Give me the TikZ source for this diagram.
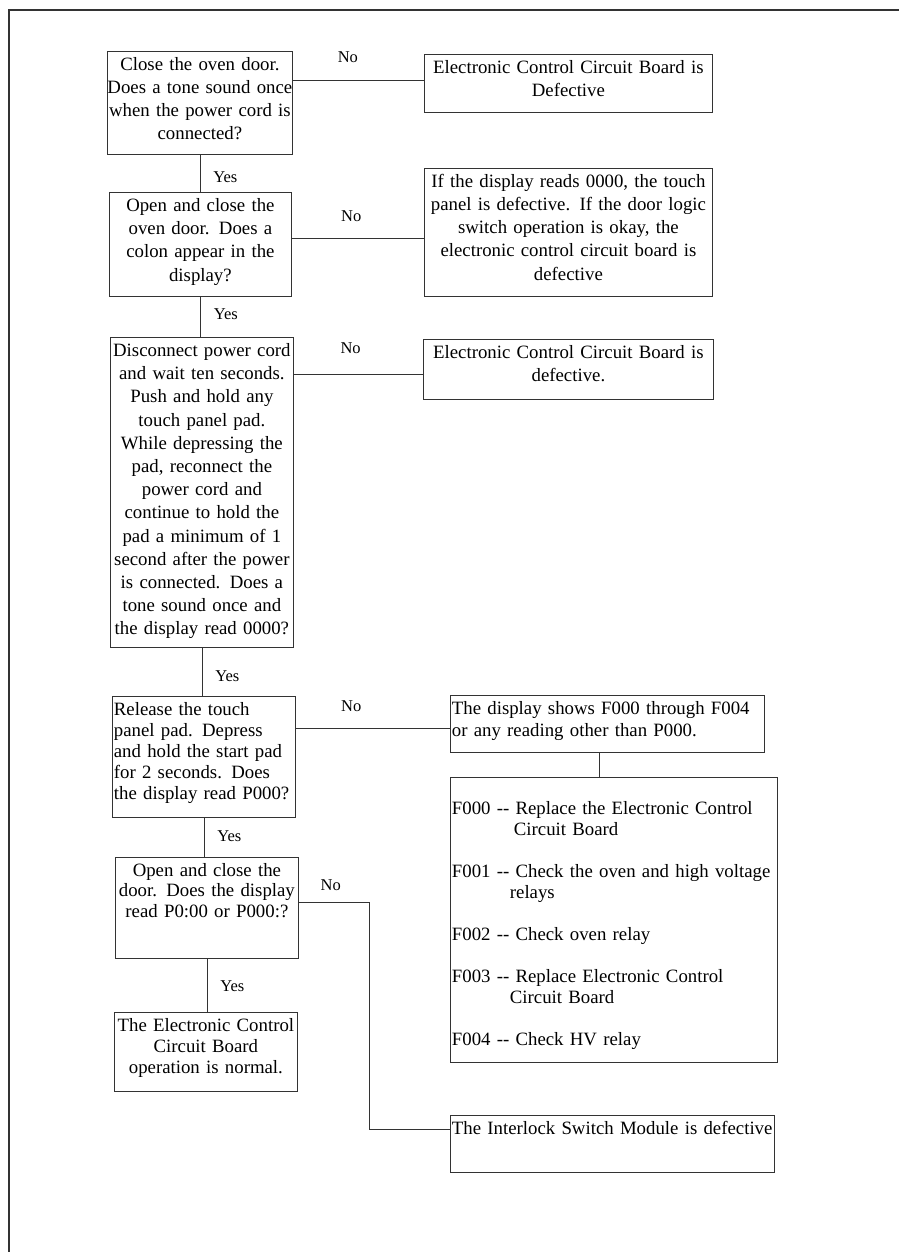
\documentclass[tikz,border=0pt]{standalone}
\usepackage{fontspec}
\setmainfont{Liberation Serif}

\begin{document}
\begin{tikzpicture}[x=1pt,y=-1pt,
        box/.style={draw=black!80, line width=.8pt, anchor=north west, inner xsep=1.5pt, inner ysep=3pt, text height=16pt, font=\fontsize{18.8}{23.2}\selectfont},
        cbox/.style={box, align=center, inner xsep=-6pt},
        lbox/.style={box, align=left},
        lbl/.style={inner sep=0pt, font=\fontsize{16.5}{18}\selectfont},
        link/.style={draw=black!80, line width=.8pt}]
    \useasboundingbox (0,0) rectangle (899,1252);
    \draw[black!80, line width=2.4pt] (9,1252) -- (9,10) -- (899,10);

    % questions, left column
    \node[cbox, text width=197pt, text depth=81pt] (q1) at (107,51)
        {Close the oven door.\\Does a tone sound once\\when the power cord is\\connected?};
    \node[cbox, text width=194pt, text depth=82pt] (q2) at (109,192)
        {Open and close the\\oven door.  Does a\\colon appear in the\\display?};
    \node[cbox, text width=195pt, text depth=288pt] (q3) at (110,337)
        {Disconnect power cord\\and wait ten seconds.\\Push and hold any\\touch panel pad.\\While depressing the\\pad, reconnect the\\power cord and\\continue to hold the\\pad a minimum of 1\\second after the power\\is connected.  Does a\\tone sound once and\\the display read 0000?};
    \node[lbox, text width=180pt, text depth=99pt, font=\fontsize{18.8}{21}\selectfont] (q4) at (112,696)
        {Release the touch\\panel pad.  Depress\\and hold the start pad\\for 2 seconds.  Does\\the display read P000?};
    \node[cbox, text width=195pt, text depth=79pt, font=\fontsize{18.8}{20.5}\selectfont] (q5) at (115,857)
        {Open and close the\\door.  Does the display\\read P0:00 or P000:?};
    \node[cbox, text width=195pt, text depth=57pt, font=\fontsize{18.8}{21}\selectfont] (q6) at (114,1012)
        {The Electronic Control\\Circuit Board\\operation is normal.};

    % results, right column
    \node[cbox, text width=300pt, text depth=36pt] (r1) at (424,54)
        {Electronic Control Circuit Board is\\Defective};
    \node[cbox, text width=300pt, text depth=106pt] (r2) at (424,168)
        {If the display reads 0000, the touch\\panel is defective.  If the door logic\\switch operation is okay, the\\electronic control circuit board is\\defective};
    \node[cbox, text width=302pt, text depth=38pt] (r3) at (423,339)
        {Electronic Control Circuit Board is\\defective.};
    \node[lbox, text width=311pt, text depth=35pt, font=\fontsize{18.8}{22}\selectfont] (r4) at (450,695)
        {The display shows F000 through F004\\or any reading other than P000.};
    \node[lbox, text width=324pt, text height=34pt, text depth=245pt, font=\fontsize{18.8}{21}\selectfont] (codes) at (450,777)
        {F000 -{}- Replace the Electronic Control\\\hspace*{62pt}Circuit Board\\[21pt]
         F001 -{}- Check the oven and high voltage\\\hspace*{58pt}relays\\[21pt]
         F002 -{}- Check oven relay\\[21pt]
         F003 -{}- Replace Electronic Control\\\hspace*{58pt}Circuit Board\\[21pt]
         F004 -{}- Check HV relay};
    \node[lbox, text width=321pt, text depth=35pt] (r5) at (450,1115)
        {\mbox{The Interlock Switch Module is defective}};

    % yes branches
    \draw[link] (q1.south) -- node[lbl, pos=.6, right=13pt] (yes1) {Yes} (q1.south |- q2.north);
    \draw[link] (q2.south) -- node[lbl, pos=.44, right=13pt] (yes2) {Yes} (q2.south |- q3.north);
    \draw[link] (q3.south) -- node[lbl, pos=.59, right=13pt] (yes3) {Yes} (q3.south |- q4.north);
    \draw[link] (q4.south) -- node[lbl, pos=.48, right=13pt] (yes4) {Yes} (q4.south |- q5.north);
    \draw[link] (q5.south) -- node[lbl, pos=.52, right=13pt] (yes5) {Yes} (q5.south |- q6.north);

    % no branches
    \coordinate (n1) at ([yshift=3pt]r1.west);
    \coordinate (n2) at ([yshift=6pt]q2.east);
    \coordinate (n3) at ([yshift=-5pt]r3.west);
    \coordinate (n4) at ([yshift=-4.5pt]r4.west);
    \coordinate (n5) at ([yshift=5.5pt]q5.east);
    \coordinate (n7) at ([yshift=14.5pt]r5.west);
    \draw[link] (n1 -| q1.east) -- node[lbl, pos=.42, above=17.5pt] (no1) {No} (n1);
    \draw[link] (n2) -- node[lbl, pos=.45, above=16.5pt] (no2) {No} (n2 -| r2.west);
    \draw[link] (n3 -| q3.east) -- node[lbl, pos=.44, above=20.5pt] (no3) {No} (n3);
    \draw[link] (n4 -| q4.east) -- node[lbl, pos=.36, above=16.5pt] (no4) {No} (n4);
    \draw[link] (n5) -- node[lbl, pos=.45, above=11.5pt] (no5) {No} ++(71,0) |- (n7);

    \coordinate (n6) at ([xshift=-8pt]r4.south);
    \draw[link] (n6) -- (n6 |- codes.north);
\end{tikzpicture}
\end{document}
